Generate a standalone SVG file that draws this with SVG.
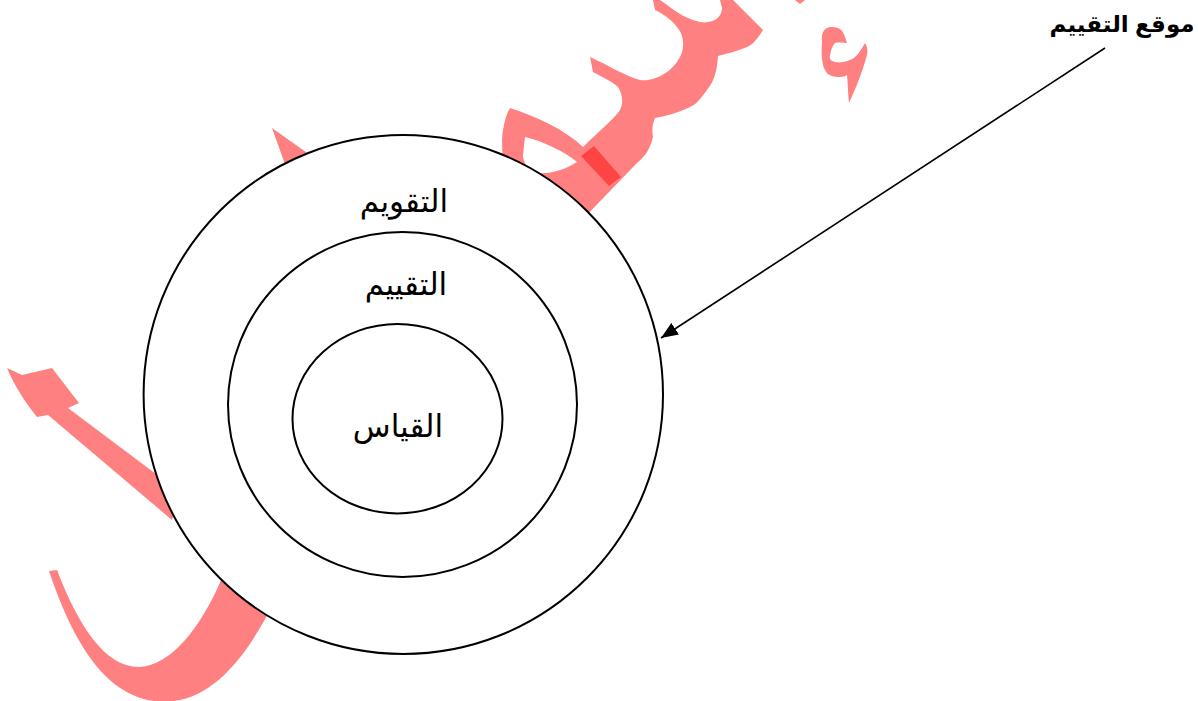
<svg xmlns="http://www.w3.org/2000/svg" width="1198" height="701" viewBox="0 0 1198 701">
  <style>
    .wm { fill: #FF8080; stroke: none; }
    .wm-dark { fill: #FF4444; stroke: none; }
    .ring { stroke: #000; stroke-width: 2; }
    .lbl { font-family: "Liberation Sans", "DejaVu Sans", sans-serif; font-size: 31px; fill: #000; text-anchor: middle; }
    .title { font-family: "Liberation Sans", "DejaVu Sans", sans-serif; font-size: 23px; font-weight: bold; fill: #000; text-anchor: middle; }
    .conn { stroke: #000; stroke-width: 1.6; fill: none; }
  </style>
  <defs>
    <marker id="arrow" markerUnits="userSpaceOnUse" markerWidth="18" markerHeight="14" refX="17" refY="7" orient="auto">
      <path d="M0,0 L17,7 L0,14 Z" fill="#000"/>
    </marker>
  </defs>

  <g id="watermark">
    <path class="wm" d="M 7 368 L 22 375 L 52 368 L 79 403 L 68 408 L 180 492 L 172 520 L 48 415 L 37 417 C 25 402 14 385 7 368 Z"/>
    <path class="wm" d="M 49 571 L 57 570 C 78 625 105 668 140 667 C 170 665 200 630 222 578 L 275 600 C 255 640 225 690 180 700 C 165 703 150 702 135 696 C 95 680 68 628 49 571 Z"/>
    <path class="wm" d="M 272 128 L 320 162 L 290 178 Z"/>
    <path class="wm" fill-rule="evenodd" d="M 503 175 L 502 140 C 503 125 506 115 510 108 C 540 118 565 130 583 147 C 600 130 615 118 620 110 C 624 103 622 93 618 87 C 610 80 600 76 593 72 L 590 57 C 610 66 625 76 640 80 C 655 82 672 72 680 57 C 685 47 684 35 677 27 C 670 18 660 12 655 10 L 653 0 L 660 0 C 672 8 682 18 700 22 C 712 24 722 18 722 8 L 720 0 L 733 0 L 763 30 C 757 40 752 45 747 47 C 735 52 725 54 718 56 C 717 70 715 80 707 90 C 700 100 695 105 690 107 C 675 114 665 116 655 118 C 652 125 652 132 653 137 C 650 150 645 156 637 163 L 582 220 L 540 222 Z M 525 137 C 545 142 565 152 577 162 C 565 170 550 174 538 173 C 528 170 523 163 523 155 Z"/>
    <path class="wm-dark" d="M 581 156 L 594 146 L 621 177 L 609 186 Z"/>
    <path class="wm" d="M 830 27 C 823 28 821 35 822 42 C 821 55 822 65 825 70 C 828 76 833 77 840 77 C 843 77 846 76 847 75 C 848 85 848 95 849 103 C 856 88 863 70 867 55 C 868 50 867 46 865 43 C 860 52 856 58 850 60 C 845 62 840 63 835 62 C 831 61 829 59 830 56 C 831 49 833 45 835 43 C 840 42 845 43 847 43 C 845 36 843 31 840 29 C 836 27 833 27 830 27 Z"/>
    <path class="wm" d="M 795 0 L 805 0 L 800 4 Z"/>
  </g>

  <g id="node-outer">
    <ellipse class="ring" cx="403.3" cy="394.5" rx="259.7" ry="259.5" fill="#fff"/>
    <text class="lbl" x="404" y="212">التقويم</text>
  </g>

  <g id="node-middle">
    <ellipse class="ring" cx="402.5" cy="404.5" rx="174.5" ry="172.5" fill="none"/>
    <text class="lbl" x="406" y="295">التقييم</text>
  </g>

  <g id="node-inner">
    <ellipse class="ring" cx="397.5" cy="418.7" rx="105" ry="94.7" fill="none"/>
    <text class="lbl" x="398" y="437">القياس</text>
  </g>

  <g id="node-label">
    <text class="title" x="1122" y="32">موقع التقييم</text>
  </g>

  <g id="connectors">
    <line class="conn" x1="1105" y1="48" x2="661" y2="338" marker-end="url(#arrow)"/>
  </g>
</svg>
